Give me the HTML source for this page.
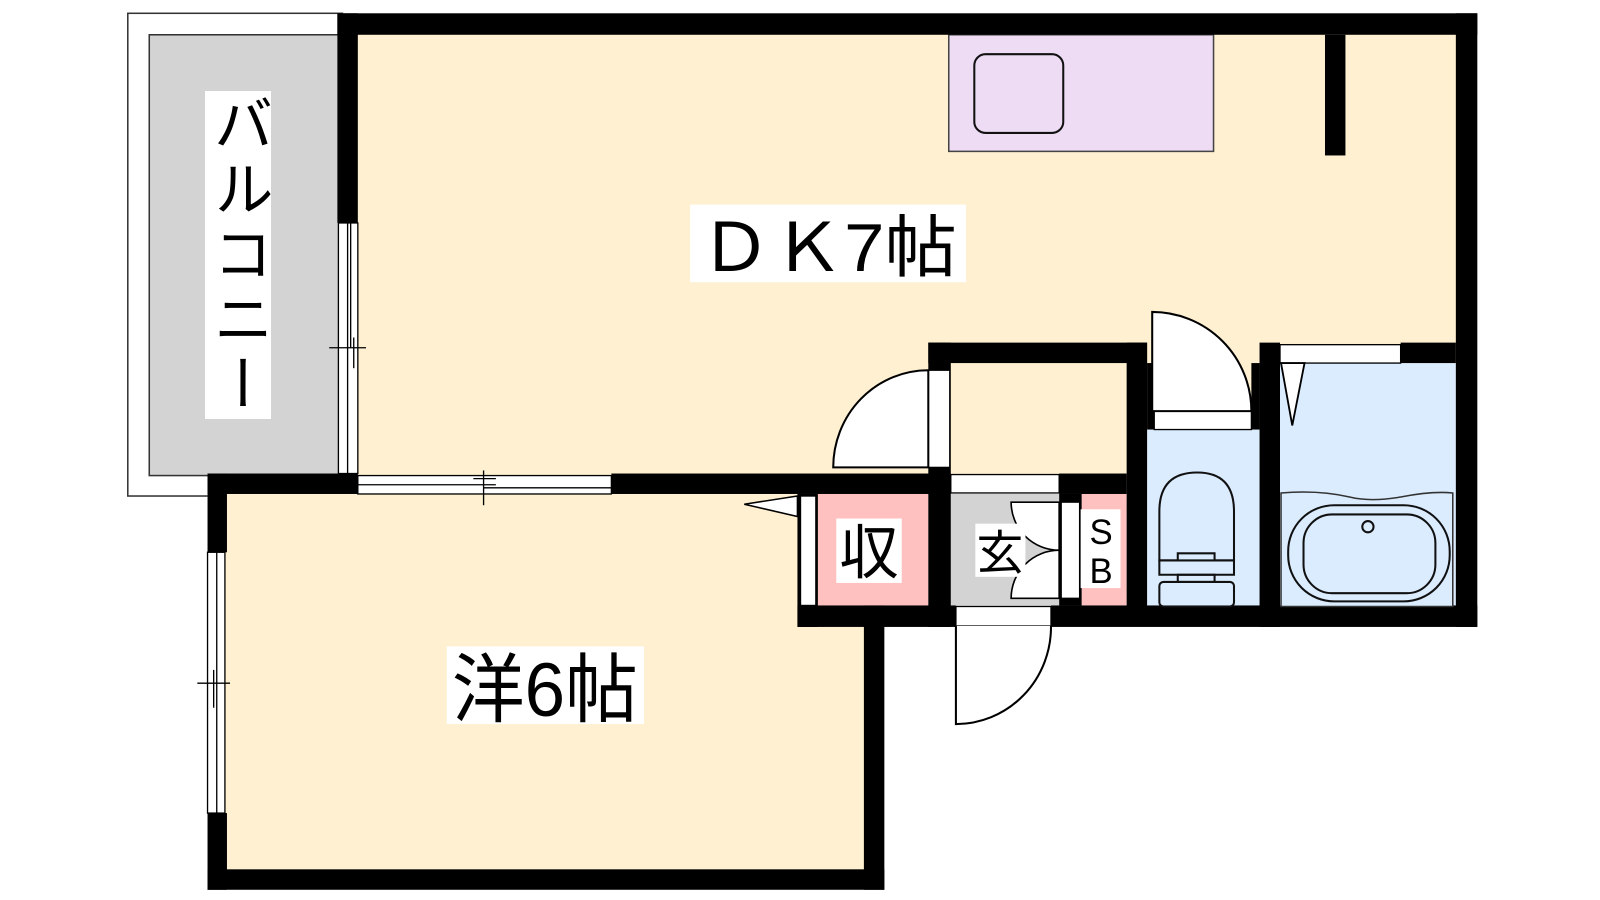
<!DOCTYPE html>
<html><head><meta charset="utf-8"><style>
html,body{margin:0;padding:0;background:#fff;}
#w{position:relative;width:1600px;height:900px;overflow:hidden;}
svg{position:absolute;left:0;top:0;}
.v{position:absolute;left:205px;top:91px;width:66px;height:328px;background:#fff;writing-mode:vertical-rl;font-family:"Liberation Sans","Noto Sans CJK JP",sans-serif;font-size:60px;line-height:66px;text-align:center;color:#000;letter-spacing:5px;}
</style></head><body><div id="w">
<svg width="1600" height="900" viewBox="0 0 1565 880" preserveAspectRatio="none" font-family="Liberation Sans, Noto Sans CJK JP, sans-serif">
<!-- balcony -->
<rect x="125" y="13" width="210" height="472" fill="#fff" stroke="#333" stroke-width="1.5"/>
<rect x="146" y="34" width="189" height="431" fill="#d3d3d3" stroke="#333" stroke-width="1.5"/>
<!-- floors -->
<rect x="335" y="13" width="1100" height="460" fill="#fef0d0"/>
<rect x="203" y="465" width="650" height="400" fill="#fef0d0"/>
<rect x="800" y="483" width="108" height="109" fill="#ffc0c0"/>
<rect x="930" y="483" width="106" height="109" fill="#d3d3d3"/>
<rect x="1058" y="483" width="44" height="109" fill="#ffc0c0"/>
<rect x="1122" y="420" width="110" height="176" fill="#dbecff"/>
<rect x="1252" y="355" width="172" height="240" fill="#dbecff"/>
<!-- outside white below -->
<rect x="865" y="613" width="700" height="267" fill="#fff"/>
<rect x="1445" y="0" width="120" height="613" fill="#fff"/>
<!-- kitchen -->
<rect x="928" y="34" width="259" height="114" fill="#eddcf4" stroke="#444" stroke-width="1.5"/>
<rect x="953" y="53" width="87" height="77" rx="11" fill="none" stroke="#111" stroke-width="2"/>
<!-- walls -->
<g fill="#000">
<rect x="330" y="13" width="1115" height="21"/>
<rect x="1424" y="13" width="21" height="600"/>
<rect x="330" y="13" width="20" height="205"/>
<rect x="1296" y="34" width="20" height="118"/>
<rect x="203" y="463" width="147" height="20"/>
<rect x="598" y="463" width="332" height="20"/>
<rect x="203" y="463" width="19" height="77"/>
<rect x="203" y="795" width="19" height="75"/>
<rect x="203" y="850" width="662" height="20"/>
<rect x="845" y="592" width="20" height="278"/>
<rect x="780" y="592" width="155" height="21"/>
<rect x="1028" y="592" width="417" height="21"/>
<rect x="780" y="483" width="20" height="130"/>
<rect x="908" y="335" width="22" height="278"/>
<rect x="908" y="335" width="214" height="20"/>
<rect x="1102" y="335" width="20" height="261"/>
<rect x="1036" y="463" width="66" height="20"/>
<rect x="1036" y="483" width="22" height="109"/>
<rect x="1232" y="335" width="20" height="278"/>
<rect x="1370" y="335" width="54" height="20"/>
<rect x="1122" y="355" width="8" height="65"/>
<rect x="1224" y="355" width="8" height="65"/>
</g>
<!-- windows -->
<g fill="#fff" stroke="#000" stroke-width="1.3">
<rect x="331" y="218" width="19" height="245"/>
<rect x="350" y="465" width="248" height="18"/>
<rect x="203" y="540" width="17" height="255"/>
<rect x="908" y="362" width="21" height="95"/>
<rect x="930" y="464" width="106" height="18"/>
<rect x="935" y="593" width="93" height="19"/>
<rect x="1129" y="402" width="95" height="18"/>
<rect x="1252" y="337" width="118" height="18"/>
<rect x="783" y="485" width="15" height="107"/>
<rect x="1038" y="491" width="18" height="94"/>
</g>
<g stroke="#000" stroke-width="1.3" fill="none">
<line x1="340" y1="218" x2="340" y2="463"/><line x1="343" y1="218" x2="343" y2="340"/>
<line x1="322" y1="340" x2="358" y2="340"/><line x1="346" y1="330" x2="346" y2="360"/>
<line x1="350" y1="474" x2="485" y2="474"/><line x1="473" y1="477" x2="598" y2="477"/>
<line x1="473" y1="460" x2="473" y2="494"/><line x1="463" y1="468" x2="485" y2="468"/>
<line x1="212" y1="540" x2="212" y2="795"/><line x1="193" y1="668" x2="225" y2="668"/><line x1="209" y1="655" x2="209" y2="692"/>
</g>
<!-- doors -->
<g fill="#fff" stroke="#000" stroke-width="2">
<path d="M908 457 L815 457 A93 95 0 0 1 908 362 Z"/>
<path d="M1127 402 L1127 305 A97 97 0 0 1 1224 402 Z"/>
<path d="M935 612 L935 708 A93 95 0 0 0 1028 612"/>
<path d="M1036 491 L989 491 A47 47 0 0 0 1036 538 Z" stroke-width="1.6"/>
<path d="M1036 585 L989 585 A47 47 0 0 1 1036 538 Z" stroke-width="1.6"/>
<path d="M780 485 L728 493 L780 505 Z" stroke-width="1.5"/>
<path d="M1253 355 L1276 355 L1264 416 Z" stroke-width="1.8"/>
</g>
<!-- toilet -->
<g fill="none" stroke="#111" stroke-width="2">
<path d="M1134 548 L1134 500 Q1134 462 1171 462 Q1207 462 1207 500 L1207 548 Z"/>
<path d="M1134 548 L1152 548 L1152 541 L1188 541 L1188 548 L1207 548 L1207 562 L1134 562 Z"/>
<rect x="1152" y="562" width="36" height="7"/>
<rect x="1134" y="569" width="73" height="24" rx="4"/>
</g>
<!-- bath -->
<path d="M1253 482 Q1290 479 1320 486 Q1340 491 1370 486 Q1400 480 1421 482 L1421 593 L1253 593 Z" fill="#dbecff" stroke="#333" stroke-width="1.5"/>
<rect x="1260" y="494" width="158" height="94" rx="45" fill="none" stroke="#111" stroke-width="2"/>
<rect x="1275" y="503" width="129" height="77" rx="28" fill="none" stroke="#111" stroke-width="2"/>
<circle cx="1338" cy="515" r="5.5" fill="none" stroke="#111" stroke-width="2"/>
<!-- labels -->
<rect x="675" y="200" width="270" height="76" fill="#fff"/>
<text x="684" y="265" font-size="66" textLength="252" lengthAdjust="spacingAndGlyphs">ＤＫ7帖</text>
<rect x="437" y="632" width="193" height="76" fill="#fff"/>
<text x="442" y="700" font-size="74" textLength="182" lengthAdjust="spacingAndGlyphs">洋6帖</text>
<rect x="818" y="507" width="64" height="63" fill="#fff"/>
<text x="821" y="561" font-size="58">収</text>
<rect x="954" y="512" width="49" height="52" fill="#fff"/>
<text x="955" y="557" font-size="46">玄</text>
<rect x="1057" y="498" width="39" height="77" fill="#fff"/>
<text x="1077" y="532" font-size="34" text-anchor="middle">S</text>
<text x="1077" y="570" font-size="34" text-anchor="middle">B</text>
</svg>
<div class="v">バルコニー</div>
</div></body></html>
